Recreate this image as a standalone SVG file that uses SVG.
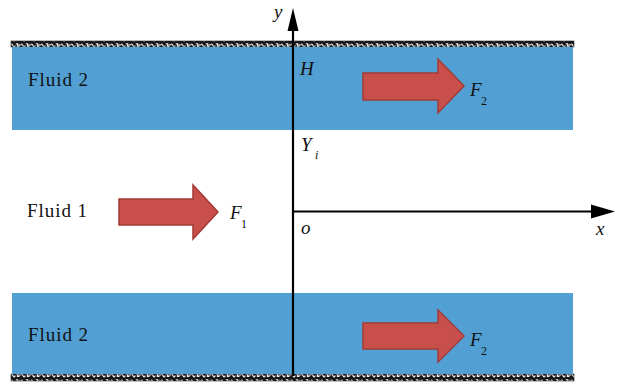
<svg xmlns="http://www.w3.org/2000/svg" width="628" height="385" viewBox="0 0 628 385">
<defs>
<pattern id="wall" width="10" height="6" patternUnits="userSpaceOnUse">
<rect width="10" height="6" fill="#161616"/>
<path d="M0.5,3.5 q1.2,-3 2.4,0 t2.4,0 M5.8,1.8 h1.6 v2.6 h1.6 v-2.6" fill="none" stroke="#f4f4f4" stroke-width="1.1"/>
</pattern>
</defs>
<style>
.band{fill:#52a0d3}
.wall{fill:url(#wall);stroke:#222;stroke-width:0.6}
.force{fill:#c9504a;stroke:#a23b36;stroke-width:1.5;stroke-linejoin:miter}
.axis{stroke:#000;stroke-width:2.2;fill:none}
.lab{font-family:"Liberation Serif",serif;font-size:19px;fill:#111}
.it{font-family:"Liberation Serif",serif;font-style:italic;font-size:19px;fill:#111}
.sub{font-family:"Liberation Serif",serif;font-size:12px;fill:#111}
</style>
<g id="walls">
<rect class="wall" x="11" y="41" width="563" height="6"/>
<rect class="wall" x="11" y="374" width="563" height="7"/>
</g>
<g id="fluid2-top">
<rect class="band" x="12" y="47" width="561" height="83"/>
<text class="lab" x="28" y="86" textLength="60">Fluid 2</text>
</g>
<g id="fluid2-bottom">
<rect class="band" x="12" y="293" width="561" height="81"/>
<text class="lab" x="28" y="341" textLength="60">Fluid 2</text>
</g>
<g id="fluid1">
<text class="lab" x="27" y="217" textLength="60">Fluid 1</text>
</g>
<g id="connectors">
<line class="axis" x1="293" y1="376" x2="293" y2="28"/>
<polygon points="293,8 287.5,31 298.5,31" fill="#000"/>
<line class="axis" x1="293" y1="211.5" x2="594" y2="211.5"/>
<polygon points="615,211.5 591,204.5 591,218.5" fill="#000"/>
</g>
<g id="force-F1">
<polygon class="force" points="119,199 193,199 193,185 218,212 193,239 193,225 119,225"/>
<text class="it" x="230" y="219">F</text><text class="sub" x="241" y="228">1</text>
</g>
<g id="force-F2-top">
<polygon class="force" points="363,73 438,73 438,59 464,86 438,113 438,100 363,100"/>
<text class="it" x="470" y="96">F</text><text class="sub" x="481" y="105">2</text>
</g>
<g id="force-F2-bottom">
<polygon class="force" points="363,323 438,323 438,310 464,336 438,362 438,349 363,349"/>
<text class="it" x="470" y="346">F</text><text class="sub" x="481" y="355">2</text>
</g>
<g id="axis-labels">
<text class="it" x="274" y="18">y</text>
<text class="it" x="300" y="75">H</text>
<text class="it" x="301" y="151">Y</text><text class="sub" x="315" y="159" font-style="italic">i</text>
<text class="it" x="301" y="234">o</text>
<text class="it" x="596" y="235">x</text>
</g>
</svg>
